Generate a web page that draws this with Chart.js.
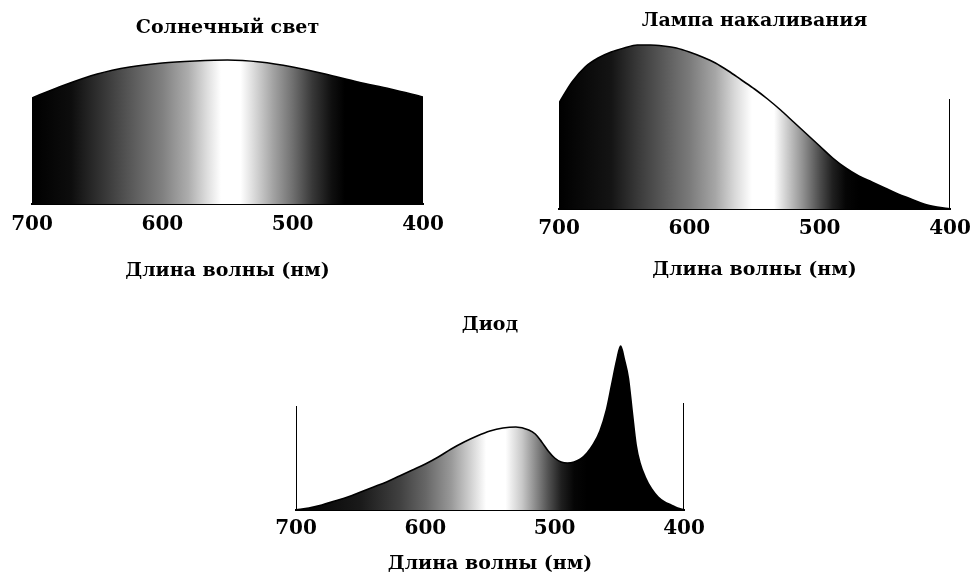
<!DOCTYPE html>
<html lang="ru">
<head>
<meta charset="utf-8">
<title>Спектры источников света</title>
<script src="https://cdn.jsdelivr.net/npm/chart.js@4/dist/chart.umd.min.js"></script>
<style>
  html, body { margin: 0; padding: 0; background: #fff; overflow: hidden; }
  body { width: 972px; height: 577px; position: relative; }
  canvas { position: absolute; display: block; }
  #sun   { left: 0px;   top: 0px; }
  #lamp  { left: 515px; top: 0px; }
  #diode { left: 250px; top: 290px; }
</style>
</head>
<body>
<canvas id="sun" width="460" height="285"></canvas>
<canvas id="lamp" width="475" height="284"></canvas>
<canvas id="diode" width="480" height="287"></canvas>
<script>
// Wavelength ticks (nm), drawn from long to short wavelengths
const tickNm = [700, 600, 500, 400];
const axisLabel = 'Длина волны (нм)';

// Sunlight: relative intensity vs wavelength
const sunTitle = 'Солнечный свет';
const sunNm = [700, 675, 650, 625, 600, 575, 550, 525, 500, 475, 450, 425, 400];
const sunI  = [106, 119, 130, 137, 141, 143, 144, 142, 137, 130, 122, 115, 107];

// Incandescent lamp
const lampTitle = 'Лампа накаливания';
const lampNm = [700, 690, 680, 670, 660, 650, 640, 630, 620, 610, 600, 590, 580, 570, 560, 550,
                540, 530, 520, 510, 500, 490, 480, 470, 460, 450, 440, 430, 420, 410, 400];
const lampI  = [106, 127, 142, 151, 157, 161, 164, 164, 163, 161, 157, 152, 146, 138, 129, 120,
                110,  99,  87,  75,  63,  51,  41,  33,  27,  21,  15,  10,   5,   2,   0];
const lampEdgeNm = [400];
const lampEdgeI  = [110];

// LED
const diodeTitle = 'Диод';
const diodeNm = [700, 690, 680, 670, 660, 650, 640, 630, 620, 610, 600, 590, 580, 570, 560, 550,
                 540, 530, 520, 515, 510, 505, 500, 495, 490, 485, 480, 475, 470, 465, 460, 456,
                 452, 449, 446, 443, 440, 437, 434, 430, 425, 420, 415, 410, 405, 400];
const diodeI  = [  0,   2,   5,   9,  13,  18,  23,  28,  34,  40,  46,  53,  61,  68,  74,  79,
                  82,  83,  80,  76,  68,  59,  52,  48,  47,  48,  51,  57,  66,  79, 100, 125,
                 150, 164, 150, 132,  98,  65,  47,  33,  21,  13,   8,   5,   2,   0];
const diodeEdgeNm = [700, 400];
const diodeEdgeI  = [104, 107];

// ---- styling ----
const SERIF = "'DejaVu Serif', 'Liberation Serif', serif";

// grey level along the spectrum: 0 = black, 1 = white
const sunShade = [[700,0],[670,0.05],[650,0.18],[625,0.34],[600,0.5],[580,0.68],[565,0.88],[555,1],
                  [540,1],[530,0.86],[515,0.64],[500,0.44],[485,0.22],[470,0.06],[460,0],[400,0]];
const lampShade = [[700,0],[660,0.08],[640,0.22],[620,0.35],[600,0.48],[580,0.65],[565,0.85],[552,1],
                   [535,1],[525,0.8],[512,0.55],[500,0.3],[490,0.12],[480,0.02],[470,0],[400,0]];
const diodeShade = [[700,0],[650,0.1],[620,0.25],[600,0.4],[580,0.6],[565,0.82],[553,1],[538,1],
                    [525,0.78],[515,0.55],[505,0.32],[495,0.12],[485,0.02],[475,0],[400,0]];

function grey(v) {
  const c = Math.round(v * 255);
  return `rgb(${c},${c},${c})`;
}

function spectrumFill(shade) {
  return (ctx) => {
    const chart = ctx.chart;
    const area = chart.chartArea;
    if (!area) return 'rgba(0,0,0,0)';
    const x = chart.scales.x;
    const g = chart.ctx.createLinearGradient(x.getPixelForValue(700), 0, x.getPixelForValue(400), 0);
    shade.forEach(([nm, v]) => g.addColorStop((700 - nm) / 300, grey(v)));
    return g;
  };
}

function pts(xs, ys) {
  return xs.map((x, i) => ({ x, y: ys[i] }));
}

function edgeLines(xs, ys) {
  return xs.map((x, i) => ({
    data: [{ x, y: 0 }, { x, y: ys[i] }],
    borderColor: '#000',
    borderWidth: 2,
    pointRadius: 0,
    fill: false,
    tension: 0
  }));
}

function makeChart(id, cfg) {
  const datasets = [{
    data: pts(cfg.nm, cfg.val),
    borderColor: '#000',
    borderWidth: 1.6,
    pointRadius: 0,
    fill: 'origin',
    backgroundColor: spectrumFill(cfg.shade),
    cubicInterpolationMode: 'monotone'
  }].concat(edgeLines(cfg.edgeNm || [], cfg.edgeI || []));

  return new Chart(document.getElementById(id), {
    type: 'line',
    data: { datasets },
    options: {
      responsive: false,
      animation: false,
      events: [],
      layout: { padding: cfg.pad },
      plugins: {
        legend: { display: false },
        tooltip: { enabled: false },
        title: {
          display: true,
          text: cfg.title,
          color: '#000',
          font: { family: SERIF, size: 19, weight: 'bold' },
          padding: cfg.titlePad
        }
      },
      scales: {
        x: {
          type: 'linear',
          reverse: true,
          min: 400,
          max: 700,
          afterBuildTicks: (axis) => { axis.ticks = tickNm.map(v => ({ value: v })); },
          ticks: {
            color: '#000',
            padding: cfg.tickPad,
            maxRotation: 0,
            autoSkip: false,
            font: { family: SERIF, size: 20, weight: 'bold' },
            callback: (v) => String(v)
          },
          grid: { display: false, drawTicks: false },
          border: { display: true, color: '#000', width: 2 },
          title: {
            display: true,
            text: axisLabel,
            color: '#000',
            font: { family: SERIF, size: 19, weight: 'bold' },
            padding: { top: cfg.axisTitleGap, bottom: 0 }
          }
        },
        y: { display: false, min: 0, max: cfg.yMax }
      }
    }
  });
}

makeChart('sun', {
  title: sunTitle, nm: sunNm, val: sunI, shade: sunShade, yMax: 150,
  pad: { left: 32, right: 37, top: 0, bottom: 2.6 },
  titlePad: { top: 16.6, bottom: 14.6 }, tickPad: 9, axisTitleGap: 13.6
});

makeChart('lamp', {
  title: lampTitle, nm: lampNm, val: lampI, shade: lampShade, yMax: 170,
  edgeNm: lampEdgeNm, edgeI: lampEdgeI,
  pad: { left: 44, right: 40, top: 0, bottom: 2.6 },
  titlePad: { top: 9.6, bottom: 6.6 }, tickPad: 8, axisTitleGap: 9.6
});

makeChart('diode', {
  title: diodeTitle, nm: diodeNm, val: diodeI, shade: diodeShade, yMax: 170,
  edgeNm: diodeEdgeNm, edgeI: diodeEdgeI,
  pad: { left: 46, right: 46, top: 0, bottom: 1.6 },
  titlePad: { top: 23.6, bottom: 3.6 }, tickPad: 7, axisTitleGap: 4.6
});
</script>
</body>
</html>
